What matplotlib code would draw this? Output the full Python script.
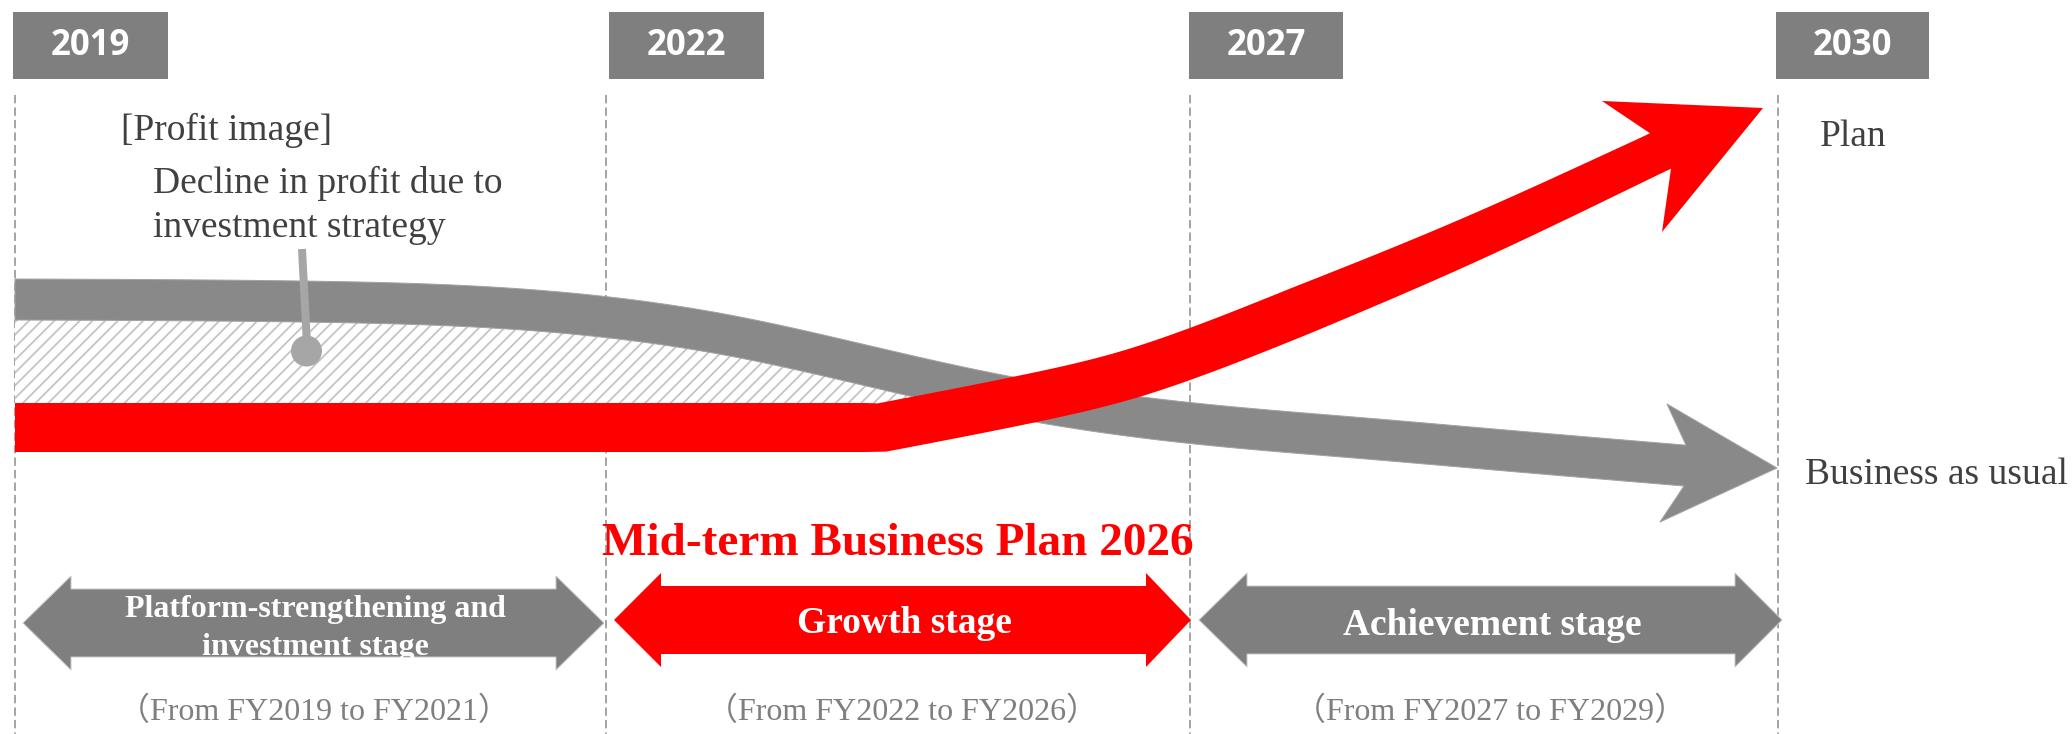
import numpy as np
import matplotlib
matplotlib.use("Agg")
import matplotlib.pyplot as plt
from matplotlib.patches import Polygon, Rectangle, Circle

plt.rcParams["lines.scale_dashes"] = False

# ---- content -------------------------------------------------------------
years = ["2019", "2022", "2027", "2030"]
year_line_x = [15, 606, 1190, 1778]
year_box_x = [(13, 168), (609, 764), (1189, 1343), (1776, 1929)]

stage_labels = [["Platform-strengthening and", "investment stage"], ["Growth stage"], ["Achievement stage"]]
stage_periods = ["（From FY2019 to FY2021）", "（From FY2022 to FY2026）", "（From FY2027 to FY2029）"]
stage_colors = ["#7f7f7f", "#ff0000", "#7f7f7f"]

# profit paths (canvas px, y grows downward)
bau_x = [15, 300, 500, 605, 727, 860, 1000, 1190, 1360, 1500, 1690]
bau_y = [299.5, 301.5, 308, 317, 335, 364, 395, 423, 438, 450, 466]
plan_flat_x = [15, 882]
plan_flat_y = [427.5, 427.5]
plan_x = [882, 1027, 1127, 1190, 1300, 1467, 1633, 1690]
plan_y = [427.5, 399, 375, 354, 311, 241, 164, 137]

W, H = 2072, 734
fig = plt.figure(figsize=(W / 100, H / 100), dpi=100)
ax = fig.add_axes([0, 0, 1, 1])
ax.set_xlim(0, W)
ax.set_ylim(H, 0)
ax.axis("off")

PX = 0.72  # points per pixel at 100 dpi
SERIF = "Liberation Serif"


def natural_spline(xk, yk, xs):
    xk = np.asarray(xk, float)
    yk = np.asarray(yk, float)
    n = len(xk)
    h = np.diff(xk)
    A = np.zeros((n, n))
    r = np.zeros(n)
    A[0, 0] = A[-1, -1] = 1
    for i in range(1, n - 1):
        A[i, i - 1] = h[i - 1]
        A[i, i] = 2 * (h[i - 1] + h[i])
        A[i, i + 1] = h[i]
        r[i] = 6 * ((yk[i + 1] - yk[i]) / h[i] - (yk[i] - yk[i - 1]) / h[i - 1])
    M = np.linalg.solve(A, r)
    idx = np.clip(np.searchsorted(xk, xs) - 1, 0, n - 2)
    x0, x1 = xk[idx], xk[idx + 1]
    hh = x1 - x0
    a = (x1 - xs) / hh
    b = (xs - x0) / hh
    return (a * yk[idx] + b * yk[idx + 1]
            + ((a ** 3 - a) * M[idx] + (b ** 3 - b) * M[idx + 1]) * hh ** 2 / 6)


def offset_edge(cx, cy, hw, sign):
    dy = np.gradient(cy, cx)
    L = np.sqrt(1 + dy ** 2)
    return cx + sign * hw * dy / L, cy - sign * hw / L


def cut(xs, ys, x_end):
    m = xs < x_end
    return np.append(xs[m], x_end), np.append(ys[m], np.interp(x_end, xs, ys))


# ---- timeline markers ----------------------------------------------------
for lab, lx, (bx0, bx1) in zip(years, year_line_x, year_box_x):
    ax.add_patch(Rectangle((bx0, 12), bx1 - bx0, 67, facecolor="#7f7f7f", edgecolor="none", zorder=2))
    ax.text((bx0 + bx1) / 2, 46, lab, color="white", fontsize=25, fontweight="bold",
            family="Open Sans", ha="center", va="center", zorder=3)
    ax.plot([lx, lx], [95, H], color="#a6a6a6", lw=2 * PX, dashes=(6, 3), zorder=1)

# ---- business-as-usual path ------------------------------------------------
gx = np.linspace(bau_x[0], bau_x[-1], 800)
gy = natural_spline(bau_x, bau_y, gx)
g_half = 20.5

# hatched gap between the two paths
hm = gx <= 1000
hx = gx[hm]
h_top = np.minimum(gy[hm] + g_half - 1, 403)
hatch_poly = Polygon(np.column_stack([np.r_[hx, hx[::-1]], np.r_[h_top, np.full(len(hx), 404)]]),
                     facecolor="white", edgecolor="none", zorder=2)
ax.add_patch(hatch_poly)
for x0 in np.arange(-200, 1100, 12.7):
    ln, = ax.plot([x0, x0 + 200], [410, 210], color="#c4c4c4", lw=1.8 * PX, zorder=2.1)
    ln.set_clip_path(hatch_poly)

tx, ty = cut(gx, gy - g_half, 1686)
bx, by = cut(gx, gy + g_half, 1684)
g_head = [(1667, 404), (1777, 468), (1660, 522)]
g_pts = np.vstack([np.column_stack([tx, ty]), g_head, np.column_stack([bx[::-1], by[::-1]])])
ax.add_patch(Polygon(g_pts, closed=True, facecolor="#898989", edgecolor="#a3a3a3",
                     lw=1.0 * PX, joinstyle="round", zorder=3))

# pointer to the hatched area
ax.plot([302, 307], [249, 345], color="#a6a6a6", lw=8 * PX, solid_capstyle="butt", zorder=4)
ax.add_patch(Circle((306.5, 351), 15.5, facecolor="#a6a6a6", edgecolor="none", zorder=4))

# ---- plan path -------------------------------------------------------------
sx = np.linspace(plan_x[0], plan_x[-1], 600)
sy = natural_spline(plan_x, plan_y, sx)
cx = np.r_[np.linspace(plan_flat_x[0], plan_flat_x[1], 50)[:-1], sx]
cy = np.r_[np.full(49, plan_flat_y[0]), sy]
hw = np.interp(cx, [1300, 1650], [24.5, 20.5])
tx, ty = offset_edge(cx, cy, hw, +1)
bx, by = offset_edge(cx, cy, hw, -1)
tx, ty = cut(tx, ty, 1650)
bx, by = cut(bx, by, 1671)
r_head = [(1602, 101), (1763, 108), (1662, 232)]
r_pts = np.vstack([np.column_stack([tx, ty]), r_head, np.column_stack([bx[::-1], by[::-1]])])
ax.add_patch(Polygon(r_pts, closed=True, facecolor="#ff0000", edgecolor="none", zorder=5))

# ---- annotations -----------------------------------------------------------
txt = dict(family=SERIF, color="#404040", fontsize=27, va="baseline", ha="left", zorder=6)
ax.text(121, 140, "[Profit image]", **txt)
ax.text(153, 193, "Decline in profit due to", **txt)
ax.text(153, 237, "investment strategy", **txt)
ax.text(1820, 146, "Plan", **txt)
ax.text(1805, 484, "Business as usual", **txt)

ax.text(898, 555, "Mid-term Business Plan 2026", family=SERIF, fontsize=34, fontweight="bold",
        color="#ff0000", ha="center", va="baseline", zorder=6)

# ---- stage arrows ----------------------------------------------------------
arrow_geom = [  # tip_l, barb_l, barb_r, tip_r, y_center
    (23, 71, 556, 604, 623),
    (614, 661, 1146, 1191, 620),
    (1199, 1247, 1735, 1782, 620),
]
head_half, body_half = 47, 34
label_sizes = [23, 27, 27]
label_baselines = [[617, 655], [633], [635]]

for (x0, xb0, xb1, x1, yc), color, lines, fs, ybs, period in zip(
        arrow_geom, stage_colors, stage_labels, label_sizes, label_baselines, stage_periods):
    pts = [(x0, yc), (xb0, yc - head_half), (xb0, yc - body_half), (xb1, yc - body_half),
           (xb1, yc - head_half), (x1, yc), (xb1, yc + head_half), (xb1, yc + body_half),
           (xb0, yc + body_half), (xb0, yc + head_half)]
    edgec = "#c8c8c8" if color != "#ff0000" else "none"
    arrow = Polygon(pts, closed=True, facecolor=color, edgecolor=edgec, lw=1.0 * PX, zorder=5)
    ax.add_patch(arrow)
    xc = (x0 + x1) / 2
    for yb, s in zip(ybs, lines):
        t = ax.text(xc + 2, yb, s, family=SERIF, fontsize=fs, fontweight="bold", color="white",
                    ha="center", va="baseline", zorder=6)
        t.set_clip_path(arrow)
    ax.text(xc, 720, period, family=[SERIF, "Noto Sans CJK JP"], fontsize=23, color="#7f7f7f",
            ha="center", va="baseline", zorder=6)

fig.savefig("out.png", dpi=100, facecolor="white")
